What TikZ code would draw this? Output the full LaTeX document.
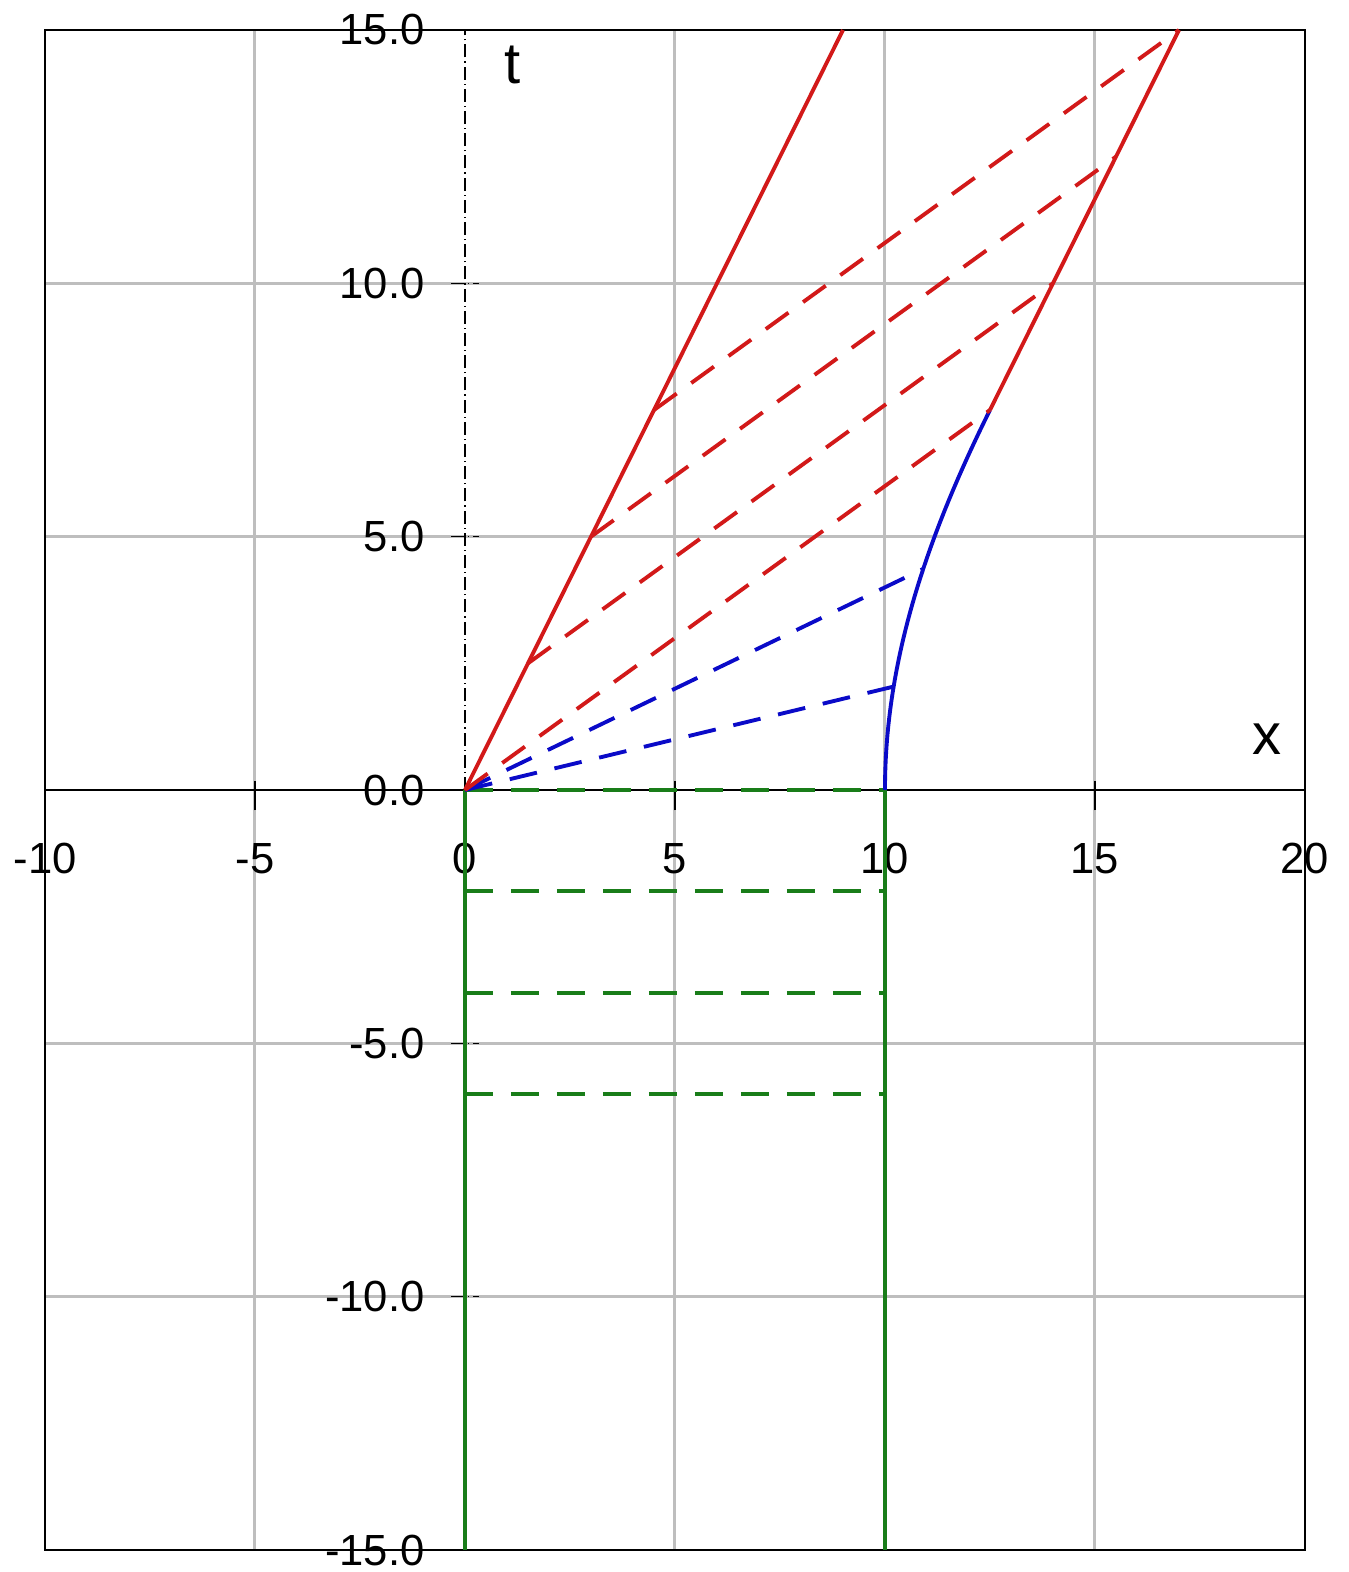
\documentclass[tikz,border=0pt]{standalone}
\usepackage{fontspec}
\setmainfont{Liberation Sans}
\definecolor{myred}{RGB}{210,25,25}
\definecolor{myblue}{RGB}{10,10,200}
\definecolor{mygreen}{RGB}{25,125,25}
\definecolor{mygrid}{RGB}{190,190,190}
\begin{document}
\begin{tikzpicture}[x=0.42cm,y=0.50667cm,
  gridline/.style={draw=mygrid,line width=0.85pt},
  curve/.style={line width=1.1pt},
  dsh/.style={dash pattern=on 0.28cm off 0.18cm},
  dashdot/.style={line width=0.35pt,dash pattern=on 0.13cm off 0.04cm on 0.012cm off 0.04cm},
  numlbl/.style={font=\fontsize{12.4}{14}\selectfont,inner sep=0pt},
  axlbl/.style={font=\fontsize{16.5}{18}\selectfont,inner sep=0pt}]
\useasboundingbox (-11.0714,-15.4343) rectangle (21.0476,15.5921);
% grid
\foreach \gx in {-5,5,10,15} \draw[gridline] (\gx,-15) -- (\gx,15);
\foreach \gy in {-10,-5,5,10} \draw[gridline] (-10,\gy) -- (20,\gy);
% frame
\draw[line width=0.6pt] (-10,-15) rectangle (20,15);
% axes
\draw[line width=0.45pt] (-10,0) -- (20,0);
\draw[dashdot] (0,0) -- (0,15);
\foreach \gy in {-10,-5,5,10} \draw[dashdot] (-0.33,\gy) -- (0.33,\gy);
\foreach \gx in {-5,5,10,15} \draw[line width=0.45pt] (\gx,-0.4) -- (\gx,0.18);
% labels
\foreach \gx in {-10,-5,0,5,10,15,20} \node[numlbl] (xl\gx) at (\gx,-1.36) {\gx};
\node[numlbl,anchor=east] (tl15) at (-0.95,15) {15.0};
\node[numlbl,anchor=east] (tl10) at (-0.95,10) {10.0};
\node[numlbl,anchor=east] (tl5) at (-0.95,5) {5.0};
\node[numlbl,anchor=east] (tl0) at (-0.95,0) {0.0};
\node[numlbl,anchor=east] (tlm5) at (-0.95,-5) {-5.0};
\node[numlbl,anchor=east] (tlm10) at (-0.95,-10) {-10.0};
\node[numlbl,anchor=east] (tlm15) at (-0.95,-15) {-15.0};
\node[axlbl] (tlab) at (1.14,14.3) {t};
\node[axlbl] (xlab) at (19.1,1.0) {x};
% coordinates
\coordinate (O) at (0,0);
\coordinate (A1) at (1.5,2.5);
\coordinate (A2) at (3,5);
\coordinate (A3) at (4.5,7.5);
\coordinate (Atop) at (9,15);
\coordinate (B0) at (12.5,7.5);
\coordinate (B1) at (14,10);
\coordinate (B2) at (15.5,12.5);
\coordinate (B3) at (17,15);
\coordinate (C1) at (10.2062,2.0412);
\coordinate (C2) at (10.9109,4.3644);
\coordinate (G0) at (10,0);
% green
\draw[curve,mygreen] (0,-15) -- (O);
\draw[curve,mygreen] (10,-15) -- (G0);
\foreach \gy in {0,-2,-4,-6} \draw[curve,mygreen,dsh] (0,\gy) -- (10,\gy);
% blue
\draw[curve,myblue,dsh] (O) -- (C1);
\draw[curve,myblue,dsh] (O) -- (C2);
\draw[curve,myblue] plot[domain=0:7.5,samples=60,smooth] ({sqrt(100+\x*\x)},\x);
% red
\draw[curve,myred,dsh] (O) -- (B0);
\draw[curve,myred,dsh] (A1) -- (B1);
\draw[curve,myred,dsh] (A2) -- (B2);
\draw[curve,myred,dsh] (A3) -- (B3);
\draw[curve,myred] (O) -- (Atop);
\draw[curve,myred] (B0) -- (B3);
\end{tikzpicture}
\end{document}
